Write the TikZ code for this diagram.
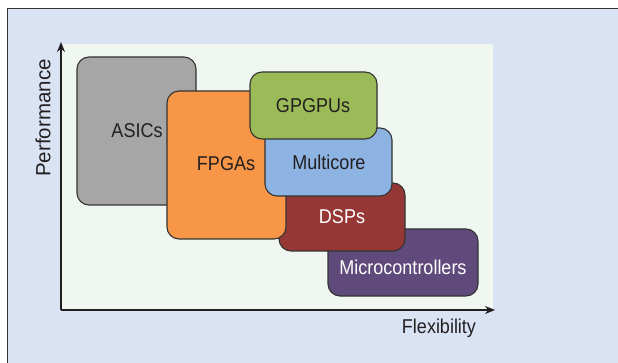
\documentclass[tikz,border=0pt]{standalone}
\usepackage{fontspec}
\setmainfont{Liberation Sans}
\usetikzlibrary{arrows.meta}
\definecolor{panelbg}{HTML}{DAE3F3}
\definecolor{plotbg}{HTML}{F0F6F0}
\definecolor{edge}{HTML}{333333}
\definecolor{ink}{HTML}{231F20}
\definecolor{asicc}{HTML}{A6A6A6}
\definecolor{fpgac}{HTML}{F79646}
\definecolor{gpuc}{HTML}{9BBB59}
\definecolor{multic}{HTML}{8DB3E2}
\definecolor{dspc}{HTML}{953735}
\definecolor{mcuc}{HTML}{604A7B}
\newcommand{\narrow}[1]{\scalebox{0.9}[1]{#1}}
\tikzset{
  region/.style={draw=edge, line width=1.1pt, rounded corners=12pt},
  lbl/.style={font=\fontsize{20}{22}\selectfont, text=ink, inner sep=0pt},
  wlbl/.style={lbl, text=white},
  axis/.style={draw=ink, line width=1.4pt, -{Stealth[length=10pt,width=8pt]}}
}
\begin{document}
\begin{tikzpicture}[x=1pt,y=-1pt]
\useasboundingbox (0,0) rectangle (618,363);
% panel and plot area
\fill[panelbg] (7,9) rectangle (620,366);
\draw[edge, line width=1pt] (7,366) -- (7,9) -- (620,9);
\fill[plotbg] (60,44) rectangle (493,310);
% regions, back to front
\draw[region, fill=mcuc] (328,229) rectangle (478,296);
\draw[region, fill=dspc] (279,183) rectangle (405,251);
\draw[region, fill=asicc] (77,57) rectangle (196,205);
\draw[region, fill=fpgac] (167,91) rectangle (286,239);
\draw[region, fill=multic] (265,128) rectangle (392,196);
\draw[region, fill=gpuc] (250,72) rectangle (377,139);
% labels
\node[lbl] (asic) at (137,131) {\narrow{ASICs}};
\node[lbl] (fpga) at (226,164) {\narrow{FPGAs}};
\node[lbl] (gpu) at (313,106) {\narrow{GPGPUs}};
\node[lbl] (multi) at (329,162) {\narrow{Multicore}};
\node[wlbl] (dsp) at (342,217) {\narrow{DSPs}};
\node[wlbl] (mcu) at (403,267) {\narrow{Microcontrollers}};
% axes
\coordinate (origin) at (61,310);
\coordinate (ytip) at (61,42);
\coordinate (xtip) at (495,310);
\draw[axis] (origin) -- (ytip);
\draw[axis] (origin) -- (xtip);
\node[lbl] (xl) at (439,328) {\narrow{Flexibility}};
\node[lbl, rotate=90, font=\fontsize{20.5}{22}\selectfont] (yl) at (43,118) {Performance};
\end{tikzpicture}
\end{document}
